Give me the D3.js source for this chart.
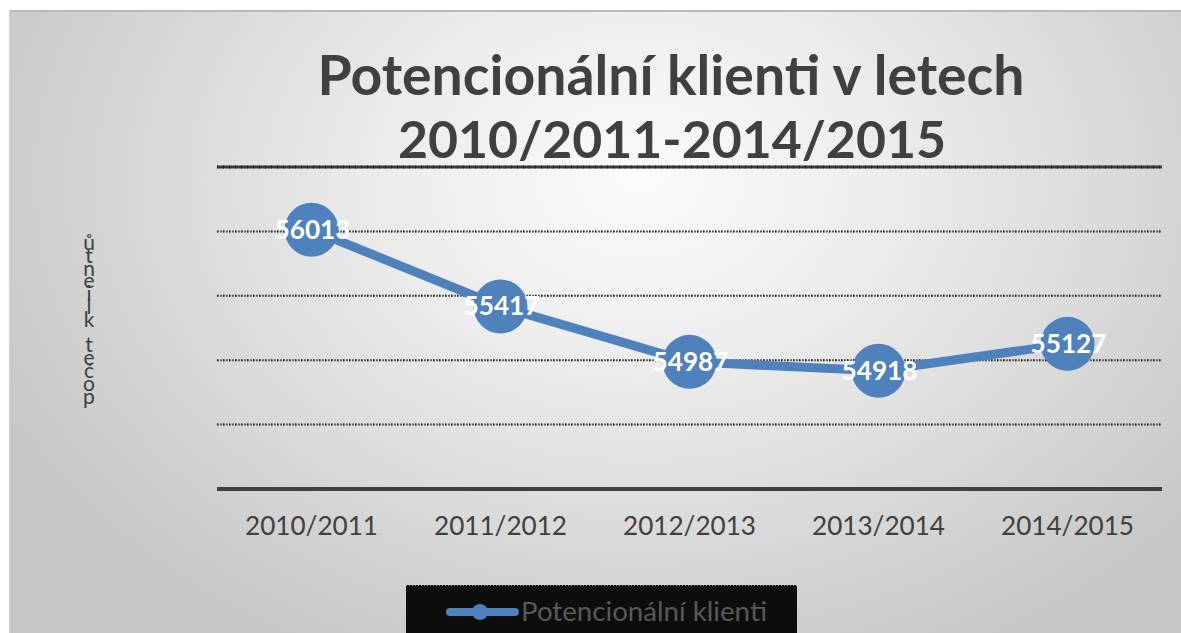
<!DOCTYPE html>
<html><head><meta charset="utf-8">
<script src="https://cdn.jsdelivr.net/npm/d3@7"></script>
<style>html,body{margin:0;padding:0;background:#fff;}svg{display:block;}</style>
</head><body>
<svg id="c" width="1181" height="633"></svg>
<script>
const title = ["Potencionální klienti v letech", "2010/2011-2014/2015"];
const categories = ["2010/2011", "2011/2012", "2012/2013", "2013/2014", "2014/2015"];
const values = [56013, 55417, 54987, 54918, 55127];
const seriesName = "Potencionální klienti";
const yLabel = "počet klientů";
const yDomain = [54000, 56500];
const yTicks = [54000, 54500, 55000, 55500, 56000, 56500];

const W = 1181, H = 633;
const svg = d3.select("#c");
const FONT = "Lato, 'Open Sans', sans-serif";

const defs = svg.append("defs");
const rg = defs.append("radialGradient").attr("id", "bg")
  .attr("gradientUnits", "userSpaceOnUse")
  .attr("cx", 640).attr("cy", 180).attr("r", 720)
  .attr("gradientTransform", "translate(640,180) scale(1,0.75) translate(-640,-180)");
rg.append("stop").attr("offset", "0").attr("stop-color", "#fbfbfb");
rg.append("stop").attr("offset", "0.35").attr("stop-color", "#ececec");
rg.append("stop").attr("offset", "1").attr("stop-color", "#c6c6c6");

svg.append("rect").attr("x", 9).attr("y", 10).attr("width", W - 9).attr("height", H - 10).attr("fill", "url(#bg)");
svg.append("line").attr("x1", 9).attr("x2", W).attr("y1", 11).attr("y2", 11).attr("stroke", "#b8b8b8").attr("stroke-width", 2);
svg.append("line").attr("x1", 9.5).attr("x2", 9.5).attr("y1", 10).attr("y2", H).attr("stroke", "#d0d0d0").attr("stroke-width", 1);

function fit(sel, target) {
  const n = sel.node();
  const fs = parseFloat(sel.attr("font-size"));
  const w = n.getComputedTextLength();
  sel.attr("font-size", (fs * target / w).toFixed(2));
}

// Title
const t1 = svg.append("text").attr("x", 671).attr("y", 95).attr("text-anchor", "middle")
  .attr("font-family", FONT).attr("font-weight", "bold").attr("font-size", 48).attr("fill", "#404040").text(title[0]);
fit(t1, 707);
const t2 = svg.append("text").attr("x", 672).attr("y", 158).attr("text-anchor", "middle")
  .attr("font-family", FONT).attr("font-weight", "bold").attr("font-size", 48).attr("fill", "#404040").text(title[1]);
fit(t2, 548);

const x = d3.scaleBand().domain(categories).range([217, 1162]);
const y = d3.scaleLinear().domain(yDomain).range([489, 167]);

// gridlines
const grid = svg.append("g");
yTicks.forEach((t, i) => {
  if (i === 0) return;
  const top = i === yTicks.length - 1;
  grid.append("line").attr("x1", 217).attr("x2", 1162).attr("y1", y(t)).attr("y2", y(t))
    .attr("stroke", top ? "#3a3a3a" : "#5e5e5e").attr("stroke-width", top ? 3 : 2)
    .attr("stroke-dasharray", top ? null : "2,1");
  grid.append("line").attr("x1", 217).attr("x2", 1162).attr("y1", y(t)).attr("y2", y(t))
    .attr("stroke", "#1e1e1e").attr("stroke-width", top ? 3 : 2).attr("stroke-dasharray", "1,5");
});
// axis
svg.append("line").attr("x1", 217).attr("x2", 1162).attr("y1", y(yDomain[0])).attr("y2", y(yDomain[0]))
  .attr("stroke", "#404040").attr("stroke-width", 4);

// category labels
svg.append("g").selectAll("text").data(categories).join("text")
  .attr("x", d => x(d) + x.bandwidth() / 2).attr("y", 535).attr("text-anchor", "middle")
  .attr("font-family", FONT).attr("font-size", 22).attr("fill", "#404040").text(d => d)
  .each(function () { fit(d3.select(this), 133); });

// line
const pts = categories.map((c, i) => [x(c) + x.bandwidth() / 2, y(values[i])]);
svg.append("path").attr("d", d3.line()(pts)).attr("fill", "none").attr("stroke", "#4f81bd")
  .attr("stroke-width", 9).attr("stroke-linejoin", "round");
svg.append("g").selectAll("circle").data(pts).join("circle")
  .attr("cx", d => d[0]).attr("cy", d => d[1]).attr("r", 27).attr("fill", "#4f81bd");

// data labels
svg.append("g").selectAll("text").data(values).join("text")
  .attr("x", (d, i) => pts[i][0] + 1).attr("y", (d, i) => pts[i][1] + 9).attr("text-anchor", "middle")
  .attr("font-family", FONT).attr("font-weight", "bold").attr("font-size", 25).attr("fill", "#fff").text(d => d)
  .each(function () { fit(d3.select(this), 76); });

// y label: upright glyphs stacked vertically, reading bottom-to-top
const chars = Array.from(yLabel).reverse();
const yl = svg.append("text").attr("font-family", FONT).attr("font-size", 21).attr("fill", "#404040").attr("text-anchor", "middle");
chars.forEach((ch, i) => {
  yl.append("tspan").attr("x", 89).attr("y", 250 + i * 12.8).text(ch === " " ? "\u00a0" : ch);
});

// legend
svg.append("rect").attr("x", 406).attr("y", 585).attr("width", 391).attr("height", 60).attr("fill", "#0d0d0d");
svg.append("line").attr("x1", 406).attr("x2", 797).attr("y1", 585.5).attr("y2", 585.5).attr("stroke", "#9a9a9a").attr("stroke-dasharray", "1,2");
svg.append("line").attr("x1", 450).attr("x2", 515).attr("y1", 612).attr("y2", 612).attr("stroke", "#4f81bd").attr("stroke-width", 8).attr("stroke-linecap", "round");
svg.append("circle").attr("cx", 480).attr("cy", 612).attr("r", 8).attr("fill", "#4f81bd");
const lt = svg.append("text").attr("x", 521).attr("y", 621).attr("font-family", FONT).attr("font-size", 24).attr("fill", "#595959").text(seriesName);
fit(lt, 246);
</script>
</body></html>
